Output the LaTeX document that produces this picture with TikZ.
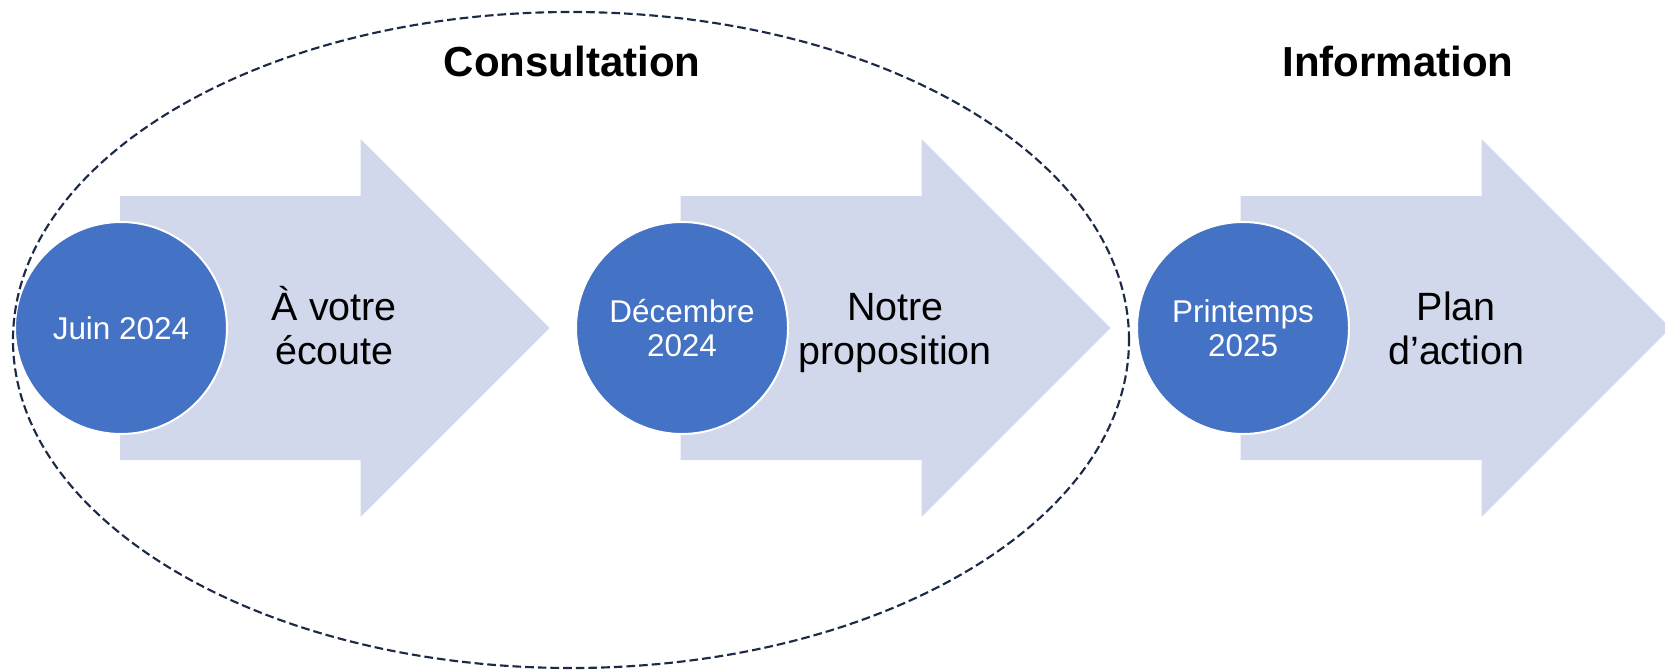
\documentclass[tikz,border=0pt]{standalone}
\usepackage{fontspec}
\setmainfont{Liberation Sans}
\usetikzlibrary{positioning}
\definecolor{stageblue}{RGB}{68,114,196}
\definecolor{arrowblue}{RGB}{210,216,235}
\definecolor{ringnavy}{RGB}{28,42,72}
\newcommand{\capstrut}{\vphantom{Àp}}
\tikzset{font=\fontsize{29.6}{30}\selectfont}
\tikzstyle{stage} = [circle, draw=white, line width=1.5pt, fill=stageblue, minimum size=159pt, inner sep=0pt, text=white, align=center, font=\fontsize{23.6}{25.5}\selectfont]
\tikzstyle{phase} = [fill=arrowblue]
\tikzstyle{caption} = [align=center, inner sep=0pt]
\tikzstyle{title} = [font=\fontsize{31.5}{32}\selectfont\bfseries]
\tikzstyle{group} = [draw=ringnavy, line width=1.6pt, dash pattern=on 6.5pt off 3pt]

\begin{document}
\begin{tikzpicture}[x=0.75pt, y=-0.75pt]
    \useasboundingbox (0,0) rectangle (1665,671);
    % the three arrows
    \fill [phase] (120,196) -- (360.5,196) -- (360.5,139) -- (549.5,328) -- (360.5,517) -- (360.5,460) -- (120,460) -- cycle;
    \fill [phase] (680.5,196) -- (921.5,196) -- (921.5,139) -- (1110.5,328) -- (921.5,517) -- (921.5,460) -- (680.5,460) -- cycle;
    \fill [phase] (1240.5,196) -- (1481.5,196) -- (1481.5,139) -- (1670.5,328) -- (1481.5,517) -- (1481.5,460) -- (1240.5,460) -- cycle;

    \node [stage] (juin) at (121,328) {Juin 2024};
    \node [stage] (dec) at (682,328) {Décembre\\2024};
    \node [stage] (print) at (1243,328) {Printemps\\2025};

    \node [caption, right=160pt of juin.center, anchor=center, yshift=-1.2pt] (ecoute) {\capstrut À votre\\écoute\capstrut};
    \node [caption, right=160pt of dec.center, anchor=center, yshift=-1.2pt] (propo) {\capstrut Notre\\proposition\capstrut};
    \node [caption, right=160pt of print.center, anchor=center, yshift=-1.2pt] (plan) {\capstrut Plan\\d’action\capstrut};

    \node [title] (consult) at (572,61) {Consultation};
    \node [title] (info) at (1398,61) {Information};

    \draw [group] (571,340) ellipse [x radius=418.5pt, y radius=246pt];
\end{tikzpicture}
\end{document}
